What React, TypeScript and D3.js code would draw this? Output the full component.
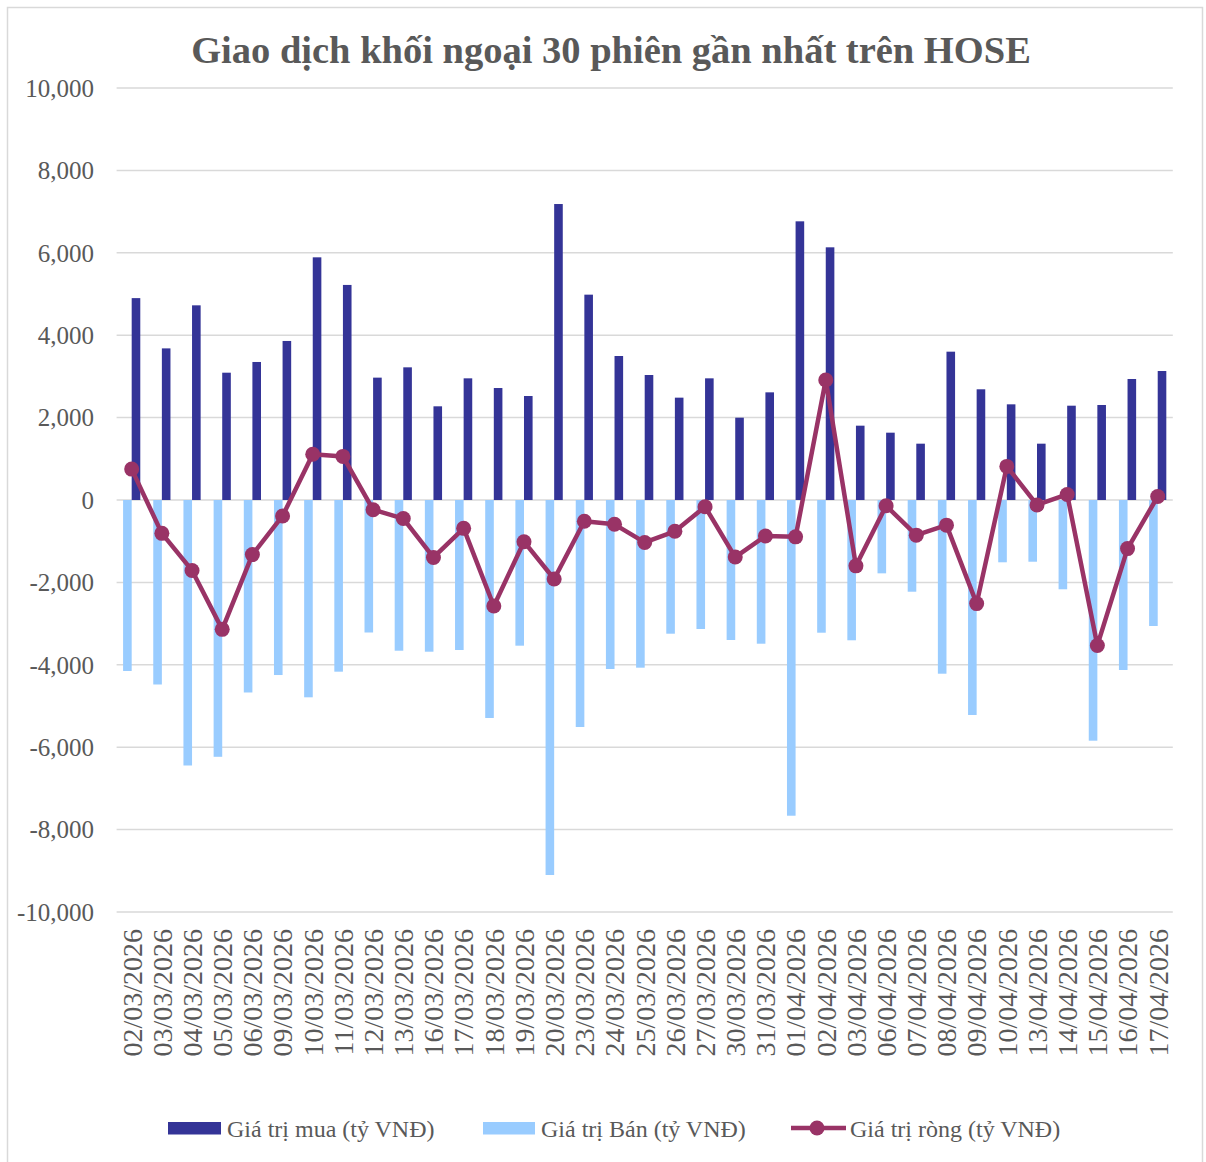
import React from "react";
import * as d3 from "d3";

// dữ liệu (tỷ VNĐ)
const dates = [
  "02/03/2026", "03/03/2026", "04/03/2026", "05/03/2026", "06/03/2026",
  "09/03/2026", "10/03/2026", "11/03/2026", "12/03/2026", "13/03/2026",
  "16/03/2026", "17/03/2026", "18/03/2026", "19/03/2026", "20/03/2026",
  "23/03/2026", "24/03/2026", "25/03/2026", "26/03/2026", "27/03/2026",
  "30/03/2026", "31/03/2026", "01/04/2026", "02/04/2026", "03/04/2026",
  "06/04/2026", "07/04/2026", "08/04/2026", "09/04/2026", "10/04/2026",
  "13/04/2026", "14/04/2026", "15/04/2026", "16/04/2026", "17/04/2026",
];
const buyValues = [
  4900, 3680, 4725, 3090, 3350, 3860, 5890, 5220, 2970, 3220,
  2274, 2953, 2718, 2524, 7184, 4984, 3495, 3034, 2484, 2953,
  1998, 2613, 6764, 6133, 1804, 1634, 1367, 3600, 2687, 2322,
  1367, 2289, 2306, 2937, 3131,
];
const sellValues = [
  -4150, -4478, -6444, -6233, -4672, -4248, -4789, -4167, -3216, -3658,
  -3682, -3641, -5291, -3536, -9102, -5510, -4102, -4070, -3245, -3131,
  -3398, -3488, -7663, -3221, -3405, -1780, -2226, -4216, -5218, -1512,
  -1498, -2167, -5842, -4126, -3058,
];
const netValues = [
  750, -810, -1710, -3140, -1325, -388, 1110, 1058, -235, -450,
  -1395, -688, -2573, -1012, -1917, -517, -590, -1030, -760, -163,
  -1385, -874, -895, 2913, -1598, -140, -853, -610, -2515, 815,
  -120, 135, -3530, -1180, 85,
];
const yTicks = [10000, 8000, 6000, 4000, 2000, 0, -2000, -4000, -6000, -8000, -10000];
const legendLabels = ["Giá trị mua (tỷ VNĐ)", "Giá trị Bán (tỷ VNĐ)", "Giá trị ròng (tỷ VNĐ)"];

const BUY = "#343497";
const SELL = "#99ccff";
const NET = "#993366";
const TEXT = "#595959";
const GRID = "#d9d9d9";

export default function App() {
  const width = 1206;
  const height = 1162;
  const plot = { left: 116.6, right: 1172.8, top: 88, bottom: 912 };

  const x = d3.scaleBand().domain(dates).range([plot.left, plot.right]).padding(0);
  const y = d3.scaleLinear().domain([-10000, 10000]).range([plot.bottom, plot.top]);
  const barW = 8.6;
  const cx = (d: string) => (x(d) as number) + x.bandwidth() / 2;

  // dấu trừ thường như Excel
  const fmt = d3.formatLocale({ decimal: ".", thousands: ",", grouping: [3], currency: ["", ""], minus: "-" }).format(",");

  const line = d3
    .line<number>()
    .x((_, i) => cx(dates[i]))
    .y((v) => y(v));

  const serif = "'Liberation Serif', 'DejaVu Serif', serif";

  return (
    <svg
      width={width}
      height={height}
      style={{ position: "absolute", left: 0, top: 0, background: "#fff" }}
    >
      <rect x={0} y={0} width={width} height={height} fill="#fff" />
      {/* khung ngoài */}
      <rect x={7.5} y={7.5} width={1195} height={1170} fill="none" stroke={GRID} strokeWidth={1.5} />

      {/* tiêu đề */}
      <text
        x={611}
        y={63}
        textAnchor="middle"
        fontFamily={serif}
        fontWeight="bold"
        fontSize={38.5}
        fill={TEXT}
      >
        Giao dịch khối ngoại 30 phiên gần nhất trên HOSE
      </text>

      {/* lưới và trục y */}
      {yTicks.map((t) => (
        <g key={t}>
          <line x1={plot.left} x2={plot.right} y1={y(t)} y2={y(t)} stroke={GRID} strokeWidth={1.5} />
          <text
            x={94}
            y={y(t)}
            dy="0.35em"
            textAnchor="end"
            fontFamily={serif}
            fontSize={25}
            fill={TEXT}
          >
            {fmt(t)}
          </text>
        </g>
      ))}

      {/* cột bán */}
      {sellValues.map((v, i) => (
        <rect
          key={"s" + i}
          x={cx(dates[i]) - barW}
          y={y(0)}
          width={barW}
          height={y(v) - y(0)}
          fill={SELL}
        />
      ))}

      {/* cột mua */}
      {buyValues.map((v, i) => (
        <rect
          key={"b" + i}
          x={cx(dates[i])}
          y={y(v)}
          width={barW}
          height={y(0) - y(v)}
          fill={BUY}
        />
      ))}

      {/* đường giá trị ròng */}
      <path d={line(netValues) ?? ""} fill="none" stroke={NET} strokeWidth={4.5} strokeLinejoin="round" />
      {netValues.map((v, i) => (
        <circle key={"n" + i} cx={cx(dates[i])} cy={y(v)} r={7.5} fill={NET} />
      ))}

      {/* nhãn trục x */}
      {dates.map((d) => (
        <text
          key={d}
          transform={`translate(${cx(d)},929) rotate(-90)`}
          dy="0.35em"
          textAnchor="end"
          fontFamily={serif}
          fontSize={28}
          fill={TEXT}
        >
          {d}
        </text>
      ))}

      {/* chú thích */}
      <g fontFamily={serif} fontSize={24} fill={TEXT}>
        <rect x={168} y={1122} width={53} height={12.5} fill={BUY} />
        <text x={227} y={1137}>{legendLabels[0]}</text>
        <rect x={483} y={1122} width={52} height={12.5} fill={SELL} />
        <text x={541} y={1137}>{legendLabels[1]}</text>
        <line x1={791} x2={846} y1={1128} y2={1128} stroke={NET} strokeWidth={4.5} />
        <circle cx={817} cy={1128} r={7.5} fill={NET} />
        <text x={850} y={1137}>{legendLabels[2]}</text>
      </g>
    </svg>
  );
}
